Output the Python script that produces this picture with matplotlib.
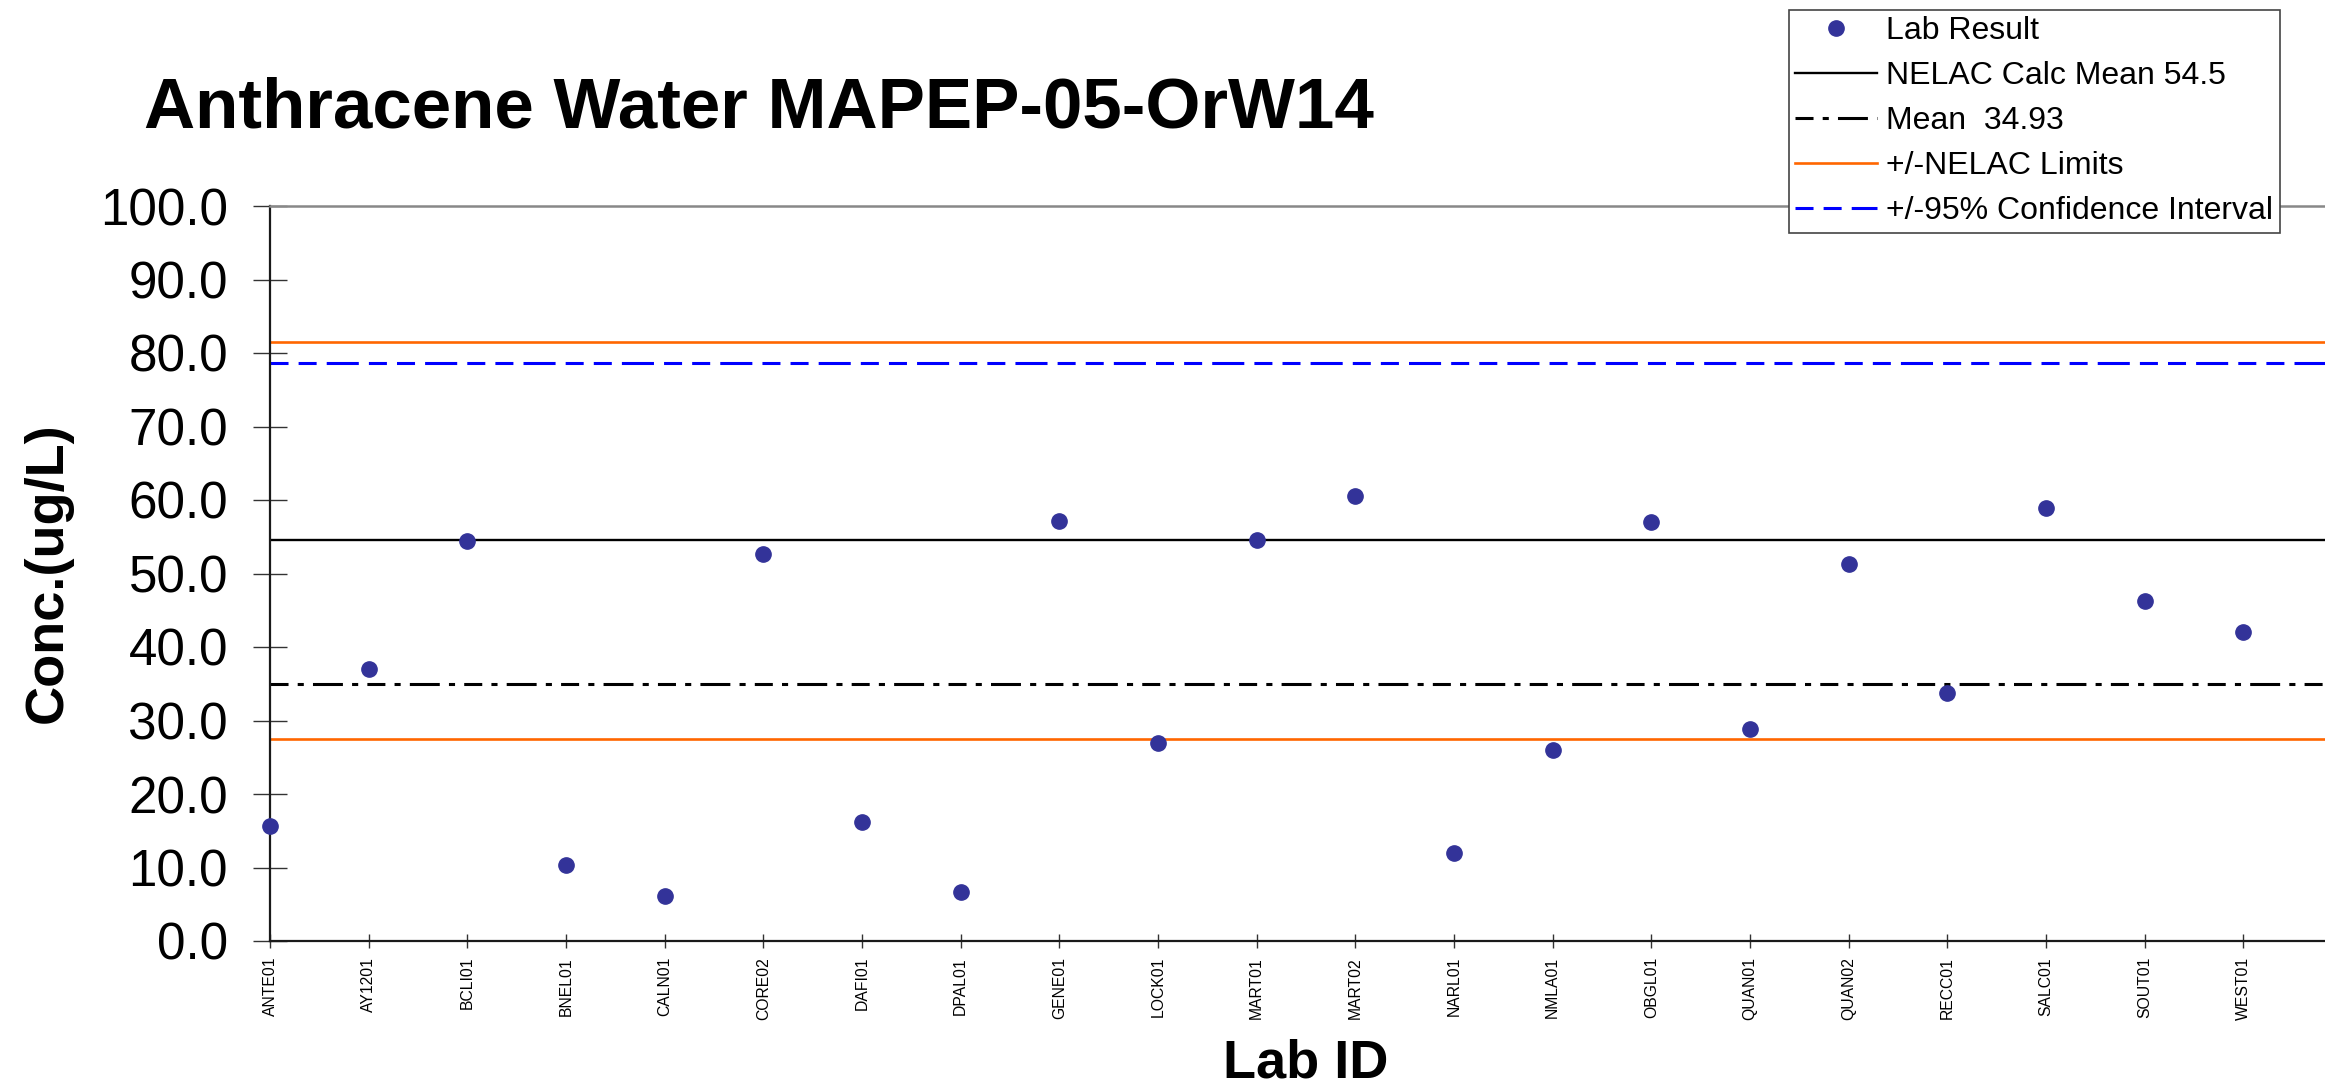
import numpy as np
import matplotlib.pyplot as plt
from matplotlib.lines import Line2D

labs = ['ANTE01', 'AY1201', 'BCLI01', 'BNEL01', 'CALN01', 'CORE02', 'DAFI01',
        'DPAL01', 'GENE01', 'LOCK01', 'MART01', 'MART02', 'NARL01', 'NMLA01',
        'OBGL01', 'QUAN01', 'QUAN02', 'RECC01', 'SALC01', 'SOUT01', 'WEST01']
results = [15.7, 37.0, 54.4, 10.4, 6.1, 52.6, 16.2,
           6.6, 57.2, 27.0, 54.5, 60.5, 12.0, 26.0,
           57.0, 28.8, 51.3, 33.8, 58.9, 46.3, 42.0]
nelac_mean = 54.5
lab_mean = 34.93
nelac_limits = [27.5, 81.5]
ci_upper = 78.6
yticks = np.arange(0, 101, 10)

plt.rcParams['font.family'] = ['Liberation Sans', 'DejaVu Sans']

# line styles
mean_ls = (0, (5.9, 3, 2, 3, 9.8, 3, 2, 3))
ci_ls = (0, (5.9, 3.3, 5.9, 3.3, 10.5, 3.3))
dot_color = '#333399'
orange = '#FF6600'

fig = plt.figure(figsize=(23.25, 10.86), dpi=100)
ax = fig.add_axes([270/2325, 1 - 941/1086, 2072/2325, 735/1086])

x = np.arange(len(labs))

ax.axhline(nelac_mean, color='black', lw=1.7, zorder=2)
ax.axhline(lab_mean, color='black', lw=2.2, ls=mean_ls, zorder=2)
for lim in nelac_limits:
    ax.axhline(lim, color=orange, lw=1.9, zorder=2)
ax.axhline(ci_upper, color='#0000FF', lw=2.2, ls=ci_ls, zorder=2)

ax.plot(x, results, 'o', color=dot_color, ms=11, zorder=3, clip_on=False)

ax.set_xlim(0, 21)
ax.set_ylim(0, 100)
ax.set_yticks(yticks)
ax.set_yticklabels([f'{v:.1f}' for v in yticks])
ax.set_xticks(x)
ax.set_xticklabels(labs, rotation=90)

ax.tick_params(axis='y', direction='inout', length=24.5, width=1, color='#333333',
               labelsize=36.8, pad=18)
ax.tick_params(axis='x', direction='inout', length=10, width=1, color='#333333',
               labelsize=11.3, pad=6.5)

ax.spines['right'].set_visible(False)
ax.spines['top'].set_color('#888888')
ax.spines['top'].set_linewidth(1.8)
for side in ['left', 'bottom']:
    ax.spines[side].set_color('#1a1a1a')
    ax.spines[side].set_linewidth(1.6)

fig.text(144/2325, 1 - 127/1086, 'Anthracene Water MAPEP-05-OrW14',
         fontsize=51, fontweight='bold', ha='left', va='baseline')
fig.text(48/2325, 1 - 573/1086, 'Conc.(ug/L)', rotation=90, fontsize=39,
         fontweight='bold', ha='center', va='center')
fig.text(1306/2325, 1 - 1077/1086, 'Lab ID', fontsize=39, fontweight='bold',
         ha='center', va='baseline')

handles = [
    Line2D([], [], ls='none', marker='o', color=dot_color, ms=11),
    Line2D([], [], color='black', lw=1.7),
    Line2D([], [], color='black', lw=2.2, ls=mean_ls),
    Line2D([], [], color=orange, lw=1.9),
    Line2D([], [], color='#0000FF', lw=2.2, ls=ci_ls),
]
labels = ['Lab Result', 'NELAC Calc Mean 54.5', 'Mean  34.93',
          '+/-NELAC Limits', '+/-95% Confidence Interval']
leg = fig.legend(handles, labels, loc='upper left',
                 bbox_to_anchor=(1789/2325, 1 - 10/1086),
                 bbox_transform=fig.transFigure, fontsize=23,
                 fancybox=False, edgecolor='#444444', framealpha=1,
                 borderpad=0.2, labelspacing=0.47, handlelength=2.55,
                 handletextpad=0.3, borderaxespad=0, numpoints=1)
leg.get_frame().set_linewidth(1.2)

fig.savefig('out.png', dpi=100)
